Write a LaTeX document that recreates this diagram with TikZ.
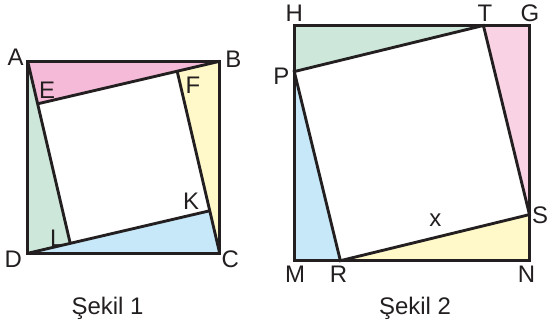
\documentclass[tikz,border=0pt]{standalone}
\usepackage{fontspec}
\setmainfont{Liberation Sans}
\definecolor{trpink}{RGB}{244,186,215}
\definecolor{trpinklt}{RGB}{249,210,228}
\definecolor{trgreen}{RGB}{205,232,218}
\definecolor{trblue}{RGB}{198,232,248}
\definecolor{tryellow}{RGB}{255,249,201}
\definecolor{ink}{RGB}{35,31,32}
\begin{document}
\begin{tikzpicture}[line width=1.7pt, draw=ink,
    lbl/.style={font=\fontsize{14.2}{16}\selectfont, inner sep=0pt, text=ink}]
    \useasboundingbox (0,0) rectangle (11.396,6.75);
    % Sekil 1
    \begin{scope}[shift={(0.577,1.473)}]
      \coordinate (A) at (0,4);
      \coordinate (B) at (4,4);
      \coordinate (C) at (4,0);
      \coordinate (D) at (0,0);
      \coordinate (E) at (0.207,3.114);
      \coordinate (F) at (3.114,3.793);
      \coordinate (K) at (3.793,0.886);
      \coordinate (L) at (0.886,0.207);
      \fill[trpink] (A) -- (B) -- (E) -- cycle;
      \fill[trgreen] (A) -- (D) -- (L) -- cycle;
      \fill[trblue] (D) -- (C) -- (K) -- cycle;
      \fill[tryellow] (C) -- (B) -- (F) -- cycle;
      \draw (A) -- (B) -- (C) -- (D) -- cycle;
      \draw (A) -- (L) (D) -- (K) (C) -- (F) (B) -- (E);
      \node[lbl] (labA) at ([shift={(-0.254,0.077)}]A) {A};
      \node[lbl] (labB) at ([shift={(0.285,0.042)}]B) {B};
      \node[lbl] (labC) at ([shift={(0.222,-0.12)}]C) {C};
      \node[lbl] (labD) at ([shift={(-0.30,-0.12)}]D) {D};
      \node[lbl] (labE) at ([shift={(0.20,0.29)}]E) {E};
      \node[lbl] (labF) at ([shift={(0.33,-0.285)}]F) {F};
      \node[lbl] (labK) at ([shift={(-0.39,0.20)}]K) {K};
      \node[lbl] (labL) at ([shift={(-0.28,0.10)}]L) {L};
    \end{scope}
    % Sekil 2
    \begin{scope}[shift={(6.131,1.319)}]
      \coordinate (M) at (0,0);
      \coordinate (N) at (4.9,0);
      \coordinate (G) at (4.9,4.9);
      \coordinate (H) at (0,4.9);
      \coordinate (R) at (0.96,0);
      \coordinate (S) at (4.9,0.96);
      \coordinate (T) at (3.94,4.9);
      \coordinate (P) at (0,3.94);
      \fill[trgreen] (H) -- (T) -- (P) -- cycle;
      \fill[trpinklt] (T) -- (G) -- (S) -- cycle;
      \fill[tryellow] (S) -- (N) -- (R) -- cycle;
      \fill[trblue] (R) -- (M) -- (P) -- cycle;
      \draw (M) -- (N) -- (G) -- (H) -- cycle;
      \draw (P) -- (T) -- (S) -- (R) -- cycle;
      \node[lbl] (labH) at ([shift={(0,0.25)}]H) {H};
      \node[lbl] (labT) at ([shift={(0.03,0.25)}]T) {T};
      \node[lbl] (labG) at ([shift={(0.01,0.25)}]G) {G};
      \node[lbl] (labP) at ([shift={(-0.27,-0.10)}]P) {P};
      \node[lbl] (labS) at ([shift={(0.22,-0.015)}]S) {S};
      \node[lbl] (labM) at ([shift={(0.015,-0.29)}]M) {M};
      \node[lbl] (labR) at ([shift={(-0.04,-0.29)}]R) {R};
      \node[lbl] (labN) at ([shift={(-0.06,-0.29)}]N) {N};
      \path (R) -- (S) node[midway, lbl, shift={(0.01,0.36)}] (labx) {x};
    \end{scope}
    \node[lbl, anchor=base] (cap1) at (2.24,0.1875) {Şekil 1};
    \node[lbl, anchor=base] (cap2) at (8.646,0.1875) {Şekil 2};
\end{tikzpicture}
\end{document}
